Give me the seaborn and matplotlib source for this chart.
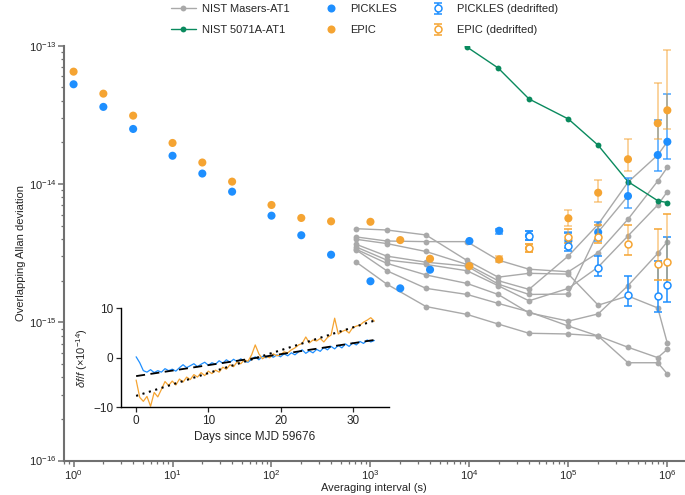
import numpy as np
import pandas as pd
import matplotlib
matplotlib.use('Agg')
import matplotlib.pyplot as plt
import seaborn as sns
from matplotlib.lines import Line2D

### DATA  (Allan deviations in units of 1e-15)

tau_clock = [1, 2, 4, 10, 20, 40, 100, 200, 400, 1e3, 2e3, 4e3, 1e4, 2e4, 4e4, 1e5, 2e5, 4e5, 8e5, 1e6]
pickles = [52.6, 36.1, 25.0, 16.0, 11.9, 8.8, 5.9, 4.26, 3.08, 1.98, 1.76, 2.40, 3.87, 4.59, 4.23, 3.89, 4.48, 8.18, 16.2, 20.2]
epic = [64.9, 45.0, 31.2, 19.8, 14.3, 10.4, 7.05, 5.68, 5.37, 5.33, 3.93, 2.88, 2.55, 2.85, 3.43, 5.65, 8.65, 15.1, 27.5, 34.1]

# error bars of the long-tau points (lower / upper bounds)
tau_err = [2e4, 4e4, 1e5, 2e5, 4e5, 8e5, 1e6]
pickles_lo = [4.35, 3.92, 3.45, 3.89, 6.71, 12.5, 15.1]
pickles_hi = [4.75, 4.57, 4.50, 5.34, 11.1, 29.0, 44.8]
epic_lo = [2.73, 3.22, 4.97, 7.45, 12.4, 21.0, 24.9]
epic_hi = [3.01, 3.66, 6.45, 10.6, 21.3, 53.5, 93.0]

# dedrifted
tau_dd = [4e4, 1e5, 2e5, 4e5, 8e5, 1e6]
pickles_dd = [4.23, 3.58, 2.48, 1.58, 1.54, 1.87]
pickles_dd_lo = [3.92, 3.26, 2.16, 1.31, 1.18, 1.40]
pickles_dd_hi = [4.57, 4.45, 3.01, 2.15, 2.77, 4.16]
epic_dd = [3.43, 4.16, 4.16, 3.70, 2.63, 2.73]
epic_dd_lo = [3.22, 3.72, 3.74, 3.05, 2.01, 2.02]
epic_dd_hi = [3.66, 4.70, 5.05, 5.05, 4.70, 6.10]

# NIST masers vs AT1
tau_maser = [720, 1460, 3640, 9440, 19500, 4e4, 1e5, 2e5, 4e5, 8e5, 1e6]
maser_1 = [3.98, 3.71, 3.25, 2.62, 2.00, 1.73, 3.02, 5.11, 10.3, 16.2, 20.2]
maser_2 = [4.14, 3.87, 3.83, 3.83, 2.82, 2.42, 2.32, 3.19, 5.56, 10.5, 13.2]
maser_3 = [3.50, 2.82, 2.62, 2.36, 1.84, 1.43, 1.76, 2.51, 4.21, 7.05, 8.80]
maser_4 = [3.37, 2.67, 2.20, 1.91, 1.59, 1.17, 1.02, 1.15, 1.84, 3.15, 3.83]
maser_5 = [4.75, 4.65, 4.28, 2.80, 2.12, 2.26, 2.23, 1.33, 1.55, 1.27, 0.705]
maser_6 = [3.66, 3.01, 2.72, 2.55, 1.89, 1.59, 1.60, 4.50, 8.19]
maser_7 = [2.72, 1.89, 1.30, 1.14, 0.972, 0.833, 0.823, 0.796, 0.660, 0.555, 0.638]
maser_8 = [3.33, 2.36, 1.76, 1.59, 1.37, 1.19, 0.940, 0.796, 0.510, 0.510, 0.423]

# NIST 5071A vs AT1
tau_cs = [3640, 9440, 19500, 4e4, 1e5, 2e5, 4e5, 8e5, 1e6]
cs_5071 = [150.0, 97.8, 69.0, 41.2, 29.5, 19.05, 10.4, 7.57, 7.33]

# inset: fractional frequency (x1e-14) vs days since MJD 59676
days = np.arange(0, 33.5, 0.5)
pickles_ff = [0.2, -1.0, -2.6, -2.9, -2.4, -3.0, -2.6, -2.9, -2.2, -2.6, -2.3, -2.7, -2.0, -1.4,
              -2.0, -1.6, -1.2, -1.8, -1.3, -0.9, -1.5, -1.0, -1.3, -0.6, -1.1, -0.4, -0.9, -0.3,
              -0.8, -0.2, -0.7, -0.9, -0.3, 0.2, -0.4, 0.3, 0.0, 0.5, 0.1, 0.6, 0.2, 0.8, 0.4, 1.0,
              0.6, 1.2, 1.6, 0.9, 1.4, 1.0, 1.7, 1.3, 2.1, 1.6, 2.3, 1.8, 2.5, 2.0, 2.8, 2.3, 3.0,
              2.6, 3.3, 2.9, 3.6, 3.2, 3.5]
epic_ff = [-4.5, -8.0, -8.8, -7.8, -9.8, -7.0, -7.9, -6.4, -4.8, -5.6, -4.7, -5.5, -4.3, -4.9,
           -3.9, -4.4, -3.4, -3.9, -3.0, -3.6, -2.7, -3.2, -2.5, -2.9, -1.9, -2.3, -1.4, -1.8,
           -0.8, -1.2, -0.4, -0.7, 0.6, 2.6, 0.8, -0.2, 0.3, 0.0, 0.8, 0.4, 0.6, 1.2, 1.0, 1.6,
           2.0, 2.6, 2.9, 4.2, 3.0, 3.6, 3.4, 3.9, 3.2, 4.1, 4.6, 8.0, 4.8, 5.3, 5.6, 5.0, 6.1,
           6.4, 6.6, 7.2, 7.6, 8.1, 7.4]
fit_days = [0, 33]
pickles_fit = [-3.7, 3.6]
epic_fit = [-7.7, 7.5]

### STYLE

gray = '#a9a9a9'
green = '#0a8a5e'
blue = '#1e8fff'
orange = '#f5a432'
axcol = '#707070'

sns.set_theme(style='ticks')
plt.rcParams['font.family'] = ['Liberation Sans', 'DejaVu Sans']
plt.rcParams['mathtext.fontset'] = 'custom'
plt.rcParams['mathtext.rm'] = 'Liberation Sans'
plt.rcParams['mathtext.it'] = 'Liberation Sans:italic'

E = 1e-15

maser_df = pd.concat([
    pd.DataFrame({'tau': tau_maser[:len(m)], 'adev': np.array(m) * E, 'clock': i})
    for i, m in enumerate([maser_1, maser_2, maser_3, maser_4, maser_5, maser_6, maser_7, maser_8])
])
cs_df = pd.DataFrame({'tau': tau_cs, 'adev': np.array(cs_5071) * E})
clock_df = pd.DataFrame({'tau': tau_clock, 'pickles': np.array(pickles) * E, 'epic': np.array(epic) * E})

fig = plt.figure(figsize=(6.85, 4.95), dpi=100)
ax = fig.add_axes([0.0934, 0.0695, 0.905, 0.8382])

sns.lineplot(data=maser_df, x='tau', y='adev', units='clock', estimator=None, color=gray,
             marker='o', markersize=4.2, markeredgewidth=0, linewidth=1.0, legend=False, ax=ax, zorder=1)
sns.lineplot(data=cs_df, x='tau', y='adev', color=green, marker='o', markersize=4.2,
             markeredgewidth=0, linewidth=1.0, legend=False, ax=ax, zorder=2)

# error bars of filled points
p_err = np.array(pickles[-7:]) * E
e_err = np.array(epic[-7:]) * E
ax.errorbar(tau_err, p_err, yerr=[p_err - np.array(pickles_lo) * E, np.array(pickles_hi) * E - p_err],
            fmt='none', ecolor=blue, alpha=0.8, capsize=3.2, elinewidth=1.1, capthick=1.1, zorder=3)
ax.errorbar(tau_err, e_err, yerr=[e_err - np.array(epic_lo) * E, np.array(epic_hi) * E - e_err],
            fmt='none', ecolor=orange, alpha=0.6, capsize=3.2, elinewidth=1.1, capthick=1.1, zorder=3)

sns.scatterplot(data=clock_df, x='tau', y='pickles', color=blue, s=34, edgecolor='none', ax=ax, zorder=4)
sns.scatterplot(data=clock_df, x='tau', y='epic', color=orange, s=34, edgecolor='none', ax=ax, zorder=4)

pd_v = np.array(pickles_dd) * E
ed_v = np.array(epic_dd) * E
h_pd = ax.errorbar(tau_dd, pd_v, yerr=[pd_v - np.array(pickles_dd_lo) * E, np.array(pickles_dd_hi) * E - pd_v],
                   fmt='o', ms=5, mfc='white', mec=blue, mew=1.1, color=blue, ecolor=blue, alpha=1,
                   capsize=3.2, elinewidth=1.1, capthick=1.1, zorder=5)
h_ed = ax.errorbar(tau_dd, ed_v, yerr=[ed_v - np.array(epic_dd_lo) * E, np.array(epic_dd_hi) * E - ed_v],
                   fmt='o', ms=5, mfc='white', mec=orange, mew=1.1, color=orange, ecolor=orange,
                   capsize=3.2, elinewidth=1.1, capthick=1.1, zorder=5)
for bar in h_ed[2]:
    bar.set_alpha(0.6)

ax.set_xscale('log')
ax.set_yscale('log')
ax.set_xlim(0.80, 1.47e6)
ax.set_ylim(1e-16, 1e-13)
ax.set_xticks([10.0 ** i for i in range(7)])
ax.set_yticks([1e-16, 1e-15, 1e-14, 1e-13])
ax.set_xlabel('Averaging interval (s)', fontsize=8, labelpad=1)
ax.set_ylabel('Overlapping Allan deviation', fontsize=8, labelpad=2)
for s in ['top', 'right']:
    ax.spines[s].set_visible(False)
for s in ['left', 'bottom']:
    ax.spines[s].set_color(axcol)
    ax.spines[s].set_linewidth(1.5)
ax.tick_params(which='major', length=4, width=1.1, color=axcol, labelsize=8, pad=1.5)
ax.tick_params(which='minor', length=2.5, width=0.9, color=axcol)

# legend
handles = [
    Line2D([], [], color=gray, marker='o', ms=4.2, mew=0, lw=1.0),
    Line2D([], [], color=green, marker='o', ms=4.2, mew=0, lw=1.0),
    Line2D([], [], ls='none', marker='o', ms=5.8, mew=0, color=blue),
    Line2D([], [], ls='none', marker='o', ms=5.8, mew=0, color=orange),
    h_pd, h_ed,
]
labels = ['NIST Masers-AT1', 'NIST 5071A-AT1', 'PICKLES', 'EPIC', 'PICKLES (dedrifted)', 'EPIC (dedrifted)']
fig.legend(handles, labels, ncol=3, loc='upper center', bbox_to_anchor=(0.532, 1.012), frameon=False,
           fontsize=8, handlelength=2.2, handletextpad=0.6, columnspacing=2.6, labelspacing=1.0)

# inset
axin = fig.add_axes([0.1766, 0.1772, 0.391, 0.2])
sns.lineplot(x=days, y=pickles_ff, color=blue, linewidth=0.9, ax=axin)
sns.lineplot(x=days, y=epic_ff, color=orange, linewidth=0.9, ax=axin)
sns.lineplot(x=fit_days, y=pickles_fit, color='black', linewidth=1.3, linestyle=(0, (5, 3)), ax=axin)
sns.lineplot(x=fit_days, y=epic_fit, color='black', linewidth=1.5, linestyle=(0, (1, 2.2)), ax=axin)
axin.set_xlim(-2.1, 35)
axin.set_ylim(-10, 10)
axin.set_xticks([0, 10, 20, 30])
axin.set_yticks([-10, 0, 10])
axin.set_yticklabels(['\u221210', '0', '10'])
axin.patch.set_alpha(0)
for s in ['top', 'right']:
    axin.spines[s].set_visible(False)
for s in ['left', 'bottom']:
    axin.spines[s].set_color('black')
    axin.spines[s].set_linewidth(1.0)
axin.tick_params(length=3.5, width=0.9, labelsize=8.5, pad=2)
axin.set_xlabel('Days since MJD 59676', fontsize=8.5, labelpad=3)
axin.set_ylabel(r'$\delta f/f$ ($\times$10$^{-14}$)', fontsize=8, labelpad=2)

fig.savefig('out.png', dpi=100)
